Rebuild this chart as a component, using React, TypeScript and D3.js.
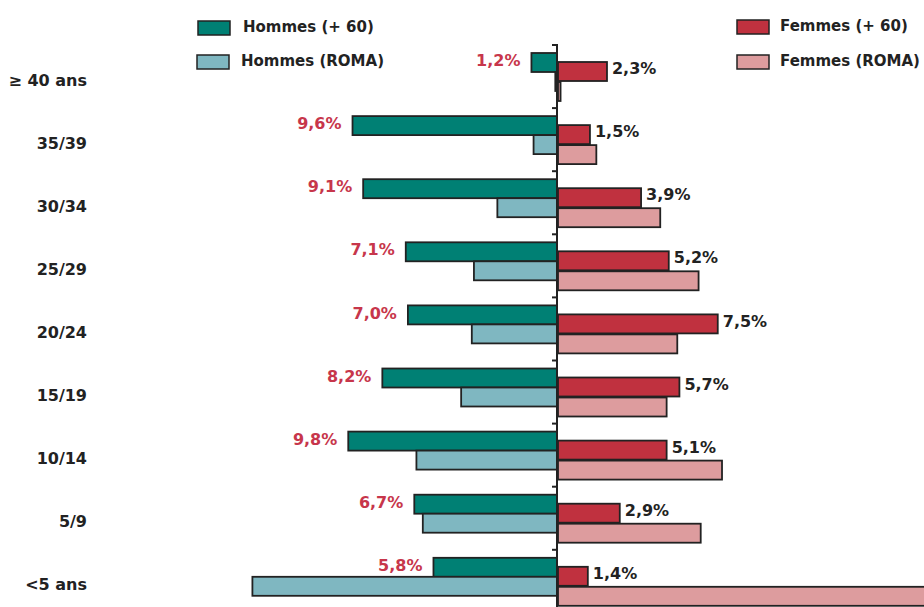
import React from "react";
import * as d3 from "d3";

const categories = ["≥ 40 ans", "35/39", "30/34", "25/29", "20/24", "15/19", "10/14", "5/9", "<5 ans"];
const hommes60 = [1.2, 9.6, 9.1, 7.1, 7.0, 8.2, 9.8, 6.7, 5.8];
const hommesRoma = [0.08, 1.1, 2.8, 3.9, 4.0, 4.5, 6.6, 6.3, 14.3];
const femmes60 = [2.3, 1.5, 3.9, 5.2, 7.5, 5.7, 5.1, 2.9, 1.4];
const femmesRoma = [0.12, 1.8, 4.8, 6.6, 5.6, 5.1, 7.7, 6.7, 18.5];
const seriesNames = ["Hommes (+ 60)", "Hommes (ROMA)", "Femmes (+ 60)", "Femmes (ROMA)"];

const W = 924;
const H = 607;
const CX = 557;
const PX_PER = 21.3;
const FONT = "'DejaVu Sans', Verdana, sans-serif";
const C_H60 = "#008074";
const C_HR = "#7fb7c1";
const C_F60 = "#c0313f";
const C_FR = "#dd9c9e";
const STROKE = "#222";
const LABEL_RED = "#c7364b";

const fmt = (v: number) => v.toFixed(1).replace(".", ",") + "%";

export default function App() {
  const x = d3.scaleLinear().domain([-20, 20]).range([CX - 20 * PX_PER, CX + 20 * PX_PER]);
  const y = d3.scaleBand<string>().domain(categories).range([45, 45 + 63.1 * categories.length]).padding(0);
  const bh = 19;
  const offH60 = 8, offHR = 27, offF60 = 17, offFR = 37;

  const legend = [
    { name: seriesNames[0], color: C_H60, rx: 198, tx: 243, y: 21 },
    { name: seriesNames[1], color: C_HR, rx: 197, tx: 241, y: 55 },
    { name: seriesNames[2], color: C_F60, rx: 737, tx: 780, y: 20 },
    { name: seriesNames[3], color: C_FR, rx: 737, tx: 780, y: 55 },
  ];

  return (
    <svg width={W} height={H} style={{ position: "absolute", left: 0, top: 0, background: "#fff" }} fontFamily={FONT}>
      {legend.map((l) => (
        <g key={l.name}>
          <rect x={l.rx} y={l.y} width={32} height={14} fill={l.color} stroke={STROKE} strokeWidth={1.5} />
          <text x={l.tx} y={l.y + 6} dy="0.35em" fontSize={15} fontWeight="bold" fill="#222">{l.name}</text>
        </g>
      ))}

      {categories.map((c, i) => {
        const b = y(c)!;
        return (
          <g key={c}>
            <text x={87} y={b + 35} dy="0.35em" textAnchor="end" fontSize={16} fontWeight="bold" fill="#222">{c}</text>
            <rect x={x(-hommes60[i])} y={b + offH60} width={x(0) - x(-hommes60[i])} height={bh} fill={C_H60} stroke={STROKE} strokeWidth={1.8} />
            <rect x={x(-hommesRoma[i])} y={b + offHR} width={x(0) - x(-hommesRoma[i])} height={bh} fill={C_HR} stroke={STROKE} strokeWidth={1.8} />
            <rect x={x(0) + 1} y={b + offF60} width={x(femmes60[i]) - x(0)} height={bh} fill={C_F60} stroke={STROKE} strokeWidth={1.8} />
            <rect x={x(0) + 1} y={b + offFR} width={x(femmesRoma[i]) - x(0)} height={bh} fill={C_FR} stroke={STROKE} strokeWidth={1.8} />
            <text x={x(-hommes60[i]) - 11} y={b + offH60 + bh / 2 - 2} dy="0.35em" textAnchor="end" fontSize={16} fontWeight="bold" fill={LABEL_RED}>{fmt(hommes60[i])}</text>
            <text x={x(femmes60[i]) + 6} y={b + offF60 + bh / 2 - 3} dy="0.35em" textAnchor="start" fontSize={16} fontWeight="bold" fill="#222">{fmt(femmes60[i])}</text>
          </g>
        );
      })}

      <line x1={x(0)} x2={x(0)} y1={44} y2={H + 10} stroke={STROKE} strokeWidth={2} />
      {d3.range(categories.length + 1).map((i) => {
        const ty = 45 + 63.1 * i;
        return <line key={i} x1={x(0) - 5} x2={x(0)} y1={ty} y2={ty} stroke={STROKE} strokeWidth={2} />;
      })}
    </svg>
  );
}
